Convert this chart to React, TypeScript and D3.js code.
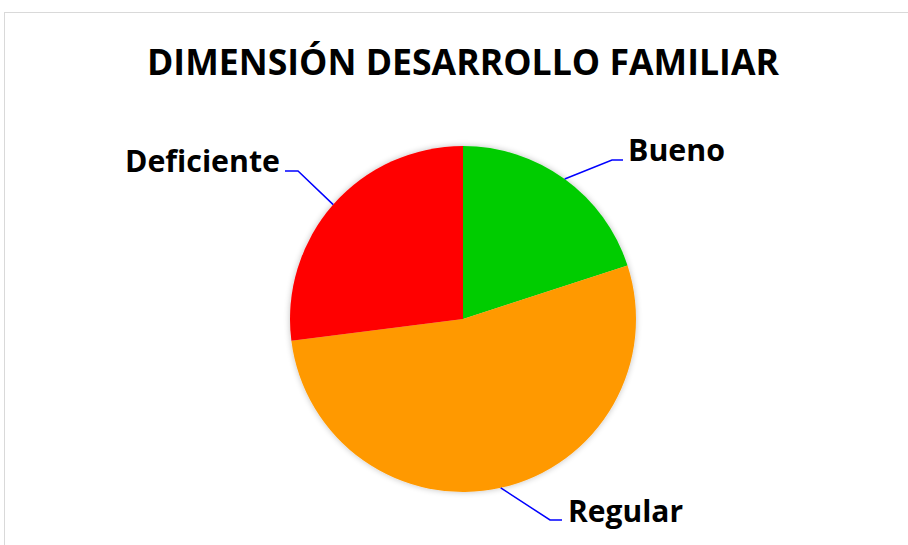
import React from "react";
import * as d3 from "d3";

const categories = ["Bueno", "Regular", "Deficiente"];
const values = [20, 53, 27];
const colors = ["#00cc00", "#ff9900", "#ff0000"];
const title = "DIMENSIÓN DESARROLLO FAMILIAR";

// label layout (pixel positions of the label anchors / elbows)
const labelLayout = [
  { elbow: [612, 160], end: [623, 160], tx: 628, ty: 161, anchor: "start", w: 97 },
  { elbow: [550, 520], end: [562, 520], tx: 568, ty: 522, anchor: "start", w: 115 },
  { elbow: [298, 171], end: [285, 171], tx: 280, ty: 172, anchor: "end", w: 155 },
];

export default function App() {
  const W = 908, H = 545;
  const cx = 463, cy = 319, r = 173;
  const pie = d3.pie<number>().sort(null).value((d) => d)(values);
  const arc = d3.arc<d3.PieArcDatum<number>>().innerRadius(0).outerRadius(r);
  const font = "'Open Sans', 'Noto Sans', sans-serif";
  return (
    <svg width={W} height={H} style={{ position: "absolute", left: 0, top: 0 }}>
      <defs>
        <filter id="sh" x="-20%" y="-20%" width="140%" height="140%">
          <feGaussianBlur in="SourceAlpha" stdDeviation="3" />
          <feComponentTransfer><feFuncA type="linear" slope="0.25" /></feComponentTransfer>
          <feMerge><feMergeNode /><feMergeNode in="SourceGraphic" /></feMerge>
        </filter>
      </defs>
      <rect x={0} y={0} width={W} height={H} fill="#fff" />
      <rect x={4.5} y={12.5} width={W + 10} height={H + 10} fill="#fff" stroke="#d9d9d9" strokeWidth={1} />
      <text x={463} y={75} textAnchor="middle" fontFamily={font} fontWeight={700} fontSize={35}
        textLength={632} lengthAdjust="spacingAndGlyphs" fill="#000">{title}</text>
      <g transform={`translate(${cx},${cy})`} filter="url(#sh)">
        {pie.map((p, i) => (
          <path key={categories[i]} d={arc(p) || ""} fill={colors[i]} />
        ))}
      </g>
      {pie.map((p, i) => {
        const a = (p.startAngle + p.endAngle) / 2;
        const sx = cx + r * Math.sin(a), sy = cy - r * Math.cos(a);
        const L = labelLayout[i];
        return (
          <g key={"l" + i}>
            <polyline points={`${sx},${sy} ${L.elbow[0]},${L.elbow[1]} ${L.end[0]},${L.end[1]}`}
              fill="none" stroke="#0000ff" strokeWidth={1.5} />
            <text x={L.tx} y={L.ty} textAnchor={L.anchor as any} fontFamily={font} fontWeight={700}
              fontSize={31} textLength={L.w} lengthAdjust="spacingAndGlyphs" fill="#000">{categories[i]}</text>
          </g>
        );
      })}
    </svg>
  );
}
